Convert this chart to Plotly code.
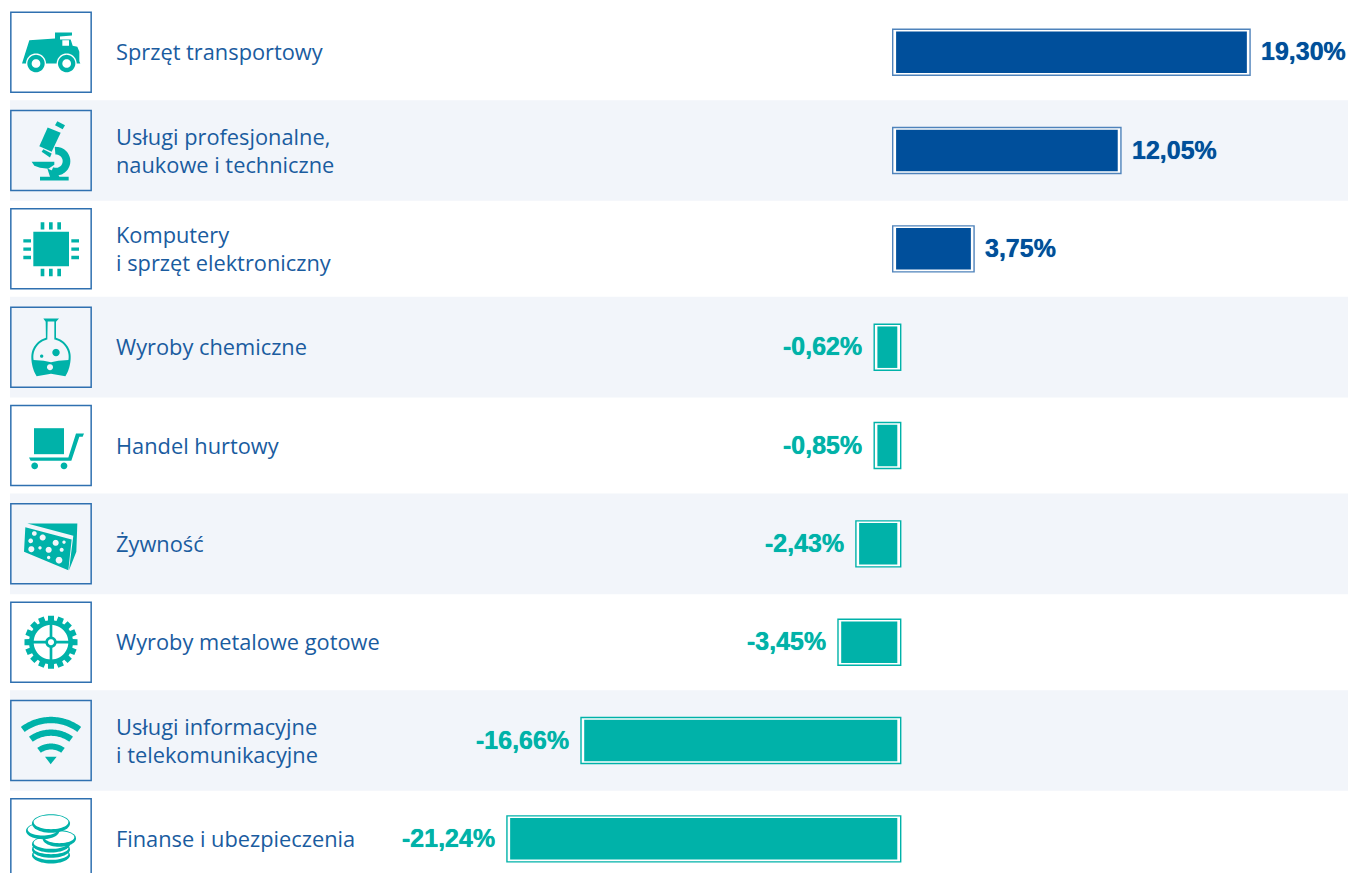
import math
import plotly.graph_objects as go

# ---------- data ----------
categories = ["Sprzęt transportowy", "Usługi profesjonalne,<br>naukowe i techniczne",
              "Komputery<br>i sprzęt elektroniczny", "Wyroby chemiczne", "Handel hurtowy",
              "Żywność", "Wyroby metalowe gotowe",
              "Usługi informacyjne<br>i telekomunikacyjne", "Finanse i ubezpieczenia"]
value_labels = ["19,30%", "12,05%", "3,75%", "-0,62%", "-0,85%", "-2,43%", "-3,45%", "-16,66%", "-21,24%"]
# length of each bar as it is drawn in the picture (the source does not scale small bars strictly)
drawn_lengths = [19.32, 12.26, 4.23, -1.23, -1.23, -2.23, -3.21, -17.26, -21.31]

BLUE, TEAL = "#004f9b", "#00b2a9"
FRAME_BLUE, TEXT_BLUE = "#4f83bb", "#1a5c9f"
BAND, BOX = "#f2f5fa", "#2f70b0"
W, H = 1348, 873
ZERO_PX, PX_PER_UNIT = 896.7, 18.29
ROW_TOP, ROW_STEP = 52.2, 98.33
BOX_CX = 51

idx = list(range(len(categories)))
u = lambda px: px / PX_PER_UNIT
colors = [BLUE if v > 0 else TEAL for v in drawn_lengths]
frames = [FRAME_BLUE if v > 0 else TEAL for v in drawn_lengths]
sign = [1 if v > 0 else -1 for v in drawn_lengths]

fig = go.Figure()
fig.add_bar(orientation="h", y=idx, x=[v + s * u(4) for v, s in zip(drawn_lengths, sign)],
            base=[-s * u(4) for s in sign], width=46 / ROW_STEP,
            marker=dict(color="white", line=dict(color=frames, width=1.4)), hoverinfo="skip")
fig.add_bar(orientation="h", y=idx, x=[v - s * u(2.6) for v, s in zip(drawn_lengths, sign)],
            base=[-s * u(0.6) for s in sign], width=41.5 / ROW_STEP,
            marker=dict(color=colors, line=dict(width=0)), hoverinfo="skip")

annotations = []
for i, (c, lab, v) in enumerate(zip(categories, value_labels, drawn_lengths)):
    col = BLUE if v > 0 else TEAL
    annotations.append(dict(x=113.5 / W, xref="paper", y=i, yref="y", yshift=0.5, text=c, showarrow=False,
                            xanchor="left", align="left",
                            font=dict(family="Open Sans", size=21.8, color=TEXT_BLUE)))
    annotations.append(dict(x=v, xref="x", y=i, yref="y", yshift=1, text="<b>%s</b>" % lab, showarrow=False,
                            xanchor="left" if v > 0 else "right", xshift=9 if v > 0 else -10,
                            font=dict(family="Liberation Sans", size=25, color=col,
                                      shadow="0 0 0.7px " + col)))


# ---------- icons: outlines in 3x crop units around the box centre ----------
def poly(pts):
    return "M" + " L".join("%.2f,%.2f" % (x, y) for x, y in pts) + " Z"


def rect(x0, y0, x1, y1):
    return poly([(x0, y0), (x1, y0), (x1, y1), (x0, y1)])


def ell(cx, cy, rx, ry=None, a0=0, a1=360, n=48):
    ry = rx if ry is None else ry
    return [(cx + rx * math.cos(math.radians(a0 + (a1 - a0) * k / n)),
             cy + ry * math.sin(math.radians(a0 + (a1 - a0) * k / n))) for k in range(n + 1)]


def circ(cx, cy, r):
    return poly(ell(cx, cy, r))


def sector(cx, cy, r0, r1, a0, a1):
    return poly(ell(cx, cy, r1, r1, a0, a1) + ell(cx, cy, r0, r0, a1, a0))


def scaled(path, cx, cy):
    out, parts = [], path.split(" ")
    for p in parts:
        cmd = ""
        if p[0] in "ML":
            cmd, p = p[0], p[1:]
        if p == "Z":
            out.append("Z")
            continue
        x, y = p.split(",")
        out.append("%s%.2f,%.2f" % (cmd, (float(x) - cx) / 3, -(float(y) - cy) / 3))
    return " ".join(out)


shapes = []
for i in idx:
    if i % 2 == 1:
        shapes.append(dict(type="rect", xref="paper", x0=10 / W, x1=1, yref="y", y0=i - 0.512, y1=i + 0.512,
                           fillcolor=BAND, line_width=0, layer="below"))


def icon(row, path, cx, cy, fill=TEAL, line=None, lw=0, rule="evenodd"):
    shapes.append(dict(type="path", xref="paper", xsizemode="pixel", xanchor=BOX_CX / W,
                       yref="y", ysizemode="pixel", yanchor=row, path=scaled(path, cx, cy),
                       fillcolor=fill, fillrule=rule,
                       line=dict(color=line or fill, width=lw), layer="above"))


for i in idx:
    icon(i, rect(33, 36, 274, 276), 153.5, 156, fill="rgba(0,0,0,0)", line=BOX, lw=1.5)

# truck
c = (153, 156)
icon(0, poly([(66, 190), (88, 120), (165, 115), (165, 97), (216, 97), (216, 106), (180, 109), (180, 118),
              (212, 118), (218, 137), (232, 140), (238, 155), (238, 183), (241, 190)])
     + " " + rect(187, 120, 207, 137), *c)
for wx in (108, 200):
    icon(0, circ(wx, 190, 30), *c, fill="white")
    icon(0, circ(wx, 190, 26) + " " + circ(wx, 190, 13), *c)

# microscope
c = (153, 451)
icon(1, poly([(165, 375), (172, 363), (195, 375), (188, 387)]), *c)
icon(1, poly([(143, 382), (182, 398), (155, 455), (118, 438)]), *c)
icon(1, poly([(125, 455), (130, 447), (155, 460), (150, 472)]), *c)
icon(1, sector(168, 483, 20, 43, -95, 115), *c)
icon(1, poly([(95, 485), (163, 485), (163, 494), (145, 506), (120, 503), (103, 497)]), *c)
icon(1, poly([(142, 505), (172, 518), (178, 530), (206, 530), (206, 541), (120, 541), (120, 530), (150, 530)]), *c)

# chip
c = (153, 746)
chip = [rect(100, 695, 207, 798)]
for px in (122, 147, 172):
    chip += [rect(px, 666, px + 11, 688), rect(px, 806, px + 11, 828)]
for py in (717, 742, 767):
    chip += [rect(70, py, 93, py + 10), rect(214, py, 237, py + 10)]
icon(2, " ".join(chip), *c)

# flask
c = (153, 156)
outer = [(130, 70), (177, 70), (168, 80), (168, 127)] + ell(153, 185, 59, 59, -75, 0, 20) + \
        ell(153, 185, 59, 85, 0, 43, 12) + [(153, 236)] + ell(153, 185, 59, 85, 137, 180, 12) + \
        ell(153, 185, 59, 59, 180, 255, 20) + [(137, 80)]
inner = [(143, 79), (163, 79), (163, 133)] + ell(153, 185, 53, 53, -78, 10, 24) + \
        [(175, 197), (153, 201), (131, 197)] + ell(153, 185, 53, 53, 170, 258, 24)
icon(3, " ".join([poly(outer), poly(inner), circ(168, 172, 11), circ(125, 183, 5), circ(150, 216, 9)]), *c)

# cart
c = (153, 451)
icon(4, rect(102, 399, 192, 477), *c)
icon(4, poly([(87, 487), (205, 487), (228, 415), (252, 415), (248, 425), (238, 425), (214, 497), (92, 497)]), *c)
icon(4, circ(104, 512, 10) + " " + circ(192, 512, 10), *c)

# cheese
c = (153, 746)
holes = [(103, 715, 7), (128, 727, 9), (92, 737, 7), (167, 743, 9), (192, 741, 5), (94, 762, 9),
         (120, 758, 5), (146, 764, 9), (185, 764, 6), (146, 787, 5), (177, 795, 10)]
icon(5, poly([(76, 696), (215, 733), (205, 825), (72, 770)]) + " " +
     " ".join(circ(*h) for h in holes), *c)
icon(5, poly([(82, 685), (232, 685), (229, 770), (207, 825), (220, 722)]), *c)

# gear
c = (153, 156)
teeth = 16
gear = []
for k in range(teeth):
    a = 360 * k / teeth
    for da, r in ((-8, 66), (-6.5, 80), (6.5, 80), (8, 66)):
        gear.append((153 + r * math.cos(math.radians(a + da)), 156 + r * math.sin(math.radians(a + da))))
icon(6, poly(gear) + " " + circ(153, 156, 52), *c)
icon(6, " ".join([rect(149, 100, 157, 144), rect(149, 168, 157, 212), rect(97, 152, 141, 160), rect(165, 152, 209, 160)]), *c)
icon(6, circ(153, 156, 17) + " " + circ(153, 156, 9), *c)

# wifi
c = (153, 451)
icon(7, " ".join([sector(153, 530, 131, 150, -127, -53), sector(153, 530, 93, 112, -126, -54),
                  sector(153, 530, 52, 70, -126, -54), poly([(135, 500), (170, 500), (152, 522)])]), *c)

# coins
c = (153, 746)
for ex, ey, rx, ry in [(153, 795, 57, 25), (153, 778, 57, 25), (153, 762, 57, 25), (178, 745, 50, 25),
                       (128, 722, 50, 25), (153, 700, 57, 28)]:
    icon(8, poly(ell(ex, ey, rx, ry)), *c)
    icon(8, poly(ell(ex, ey - 4, rx - 5, ry - 7)), *c, fill="white")

fig.update_layout(width=W, height=H, autosize=False, margin=dict(l=0, r=0, t=0, b=0), barmode="overlay",
                  plot_bgcolor="white", paper_bgcolor="white", showlegend=False,
                  annotations=annotations, shapes=shapes,
                  xaxis=dict(range=[-ZERO_PX / PX_PER_UNIT, (W - ZERO_PX) / PX_PER_UNIT], visible=False, fixedrange=True),
                  yaxis=dict(range=[(H - ROW_TOP) / ROW_STEP, -ROW_TOP / ROW_STEP], visible=False, fixedrange=True))
fig.write_html("out.html", config={"displayModeBar": False},
               post_script="document.body.style.margin='0';document.documentElement.style.overflow='hidden';")
